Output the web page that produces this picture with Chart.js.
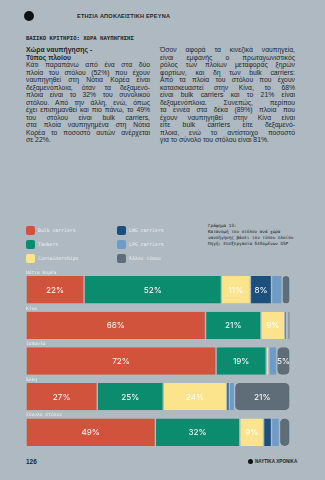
<!DOCTYPE html>
<html lang="el">
<head>
<meta charset="utf-8">
<script src="https://cdn.jsdelivr.net/npm/chart.js@4/dist/chart.umd.min.js"></script>
<style>
  body { margin: 0; background: #aeb9c1; }
  #page { position: relative; width: 325px; height: 480px; background: #aeb9c1; overflow: hidden;
          font-family: "Liberation Sans", Arial, sans-serif; color: #23272b; }
  .abs { position: absolute; }
  .mono { font-family: "DejaVu Sans Mono", "Liberation Mono", monospace; }
  .col { font-size: 6.8px; line-height: 7.5px; }
  .col .j { text-align: justify; text-align-last: justify; white-space: nowrap; }
  .col .j.last { text-align-last: left; }
  .col b { display: block; font-weight: bold; }
  .leg { position: absolute; display: flex; align-items: center; font-size: 4.8px; color: #eef2f5; }
  .leg i { display: inline-block; width: 9px; height: 9px; border-radius: 2px; margin-right: 3px; }
</style>
</head>
<body>
<div id="page">
  <!-- header -->
  <div class="abs" style="left:24px;top:11px;width:10px;height:10px;border-radius:50%;background:#111;"></div>
  <div class="abs" style="left:77px;top:13px;font-size:5.6px;font-weight:bold;letter-spacing:0.2px;">ΕΤΗΣΙΑ ΑΠΟΚΛΕΙΣΤΙΚΗ ΕΡΕΥΝΑ</div>
  <div class="abs mono" style="left:26px;top:35px;font-size:5.6px;font-weight:bold;">ΒΑΣΙΚΟ ΚΡΙΤΗΡΙΟ: ΧΩΡΑ ΝΑΥΠΗΓΗΣΗΣ</div>

  <!-- text columns -->
  <div class="abs col" style="left:26px;top:46px;width:124px;">
    <b>Χώρα ναυπήγησης -</b>
    <b>Τύπος πλοίου</b>
    <div class="j">Κάτι παραπάνω από ένα στα δύο</div>
    <div class="j">πλοία του στόλου (52%) που έχουν</div>
    <div class="j">ναυπηγηθεί στη Νότια Κορέα είναι</div>
    <div class="j">δεξαμενόπλοια, όταν τα δεξαμενό-</div>
    <div class="j">πλοια είναι το 32% του συνολικού</div>
    <div class="j">στόλου. Από την άλλη, ενώ, όπως</div>
    <div class="j">έχει επισημανθεί και πιο πάνω, το 49%</div>
    <div class="j">του στόλου είναι bulk carriers,</div>
    <div class="j">στα πλοία ναυπηγημένα στη Νότια</div>
    <div class="j">Κορέα το ποσοστό αυτών ανέρχεται</div>
    <div class="j last">σε 22%.</div>
  </div>
  <div class="abs col" style="left:160px;top:46px;width:135px;">
    <div class="j">Όσον αφορά τα κινεζικά ναυπηγεία,</div>
    <div class="j">είναι εμφανής ο πρωταγωνιστικός</div>
    <div class="j">ρόλος των πλοίων μεταφοράς ξηρών</div>
    <div class="j">φορτίων, και δη των bulk carriers:</div>
    <div class="j">Από τα πλοία του στόλου που έχουν</div>
    <div class="j">κατασκευαστεί στην Κίνα, το 68%</div>
    <div class="j">είναι bulk carriers και το 21% είναι</div>
    <div class="j">δεξαμενόπλοια. Συνεπώς, περίπου</div>
    <div class="j">τα εννέα στα δέκα (89%) πλοία που</div>
    <div class="j">έχουν ναυπηγηθεί στην Κίνα είναι</div>
    <div class="j">είτε bulk carriers είτε δεξαμενό-</div>
    <div class="j">πλοια, ενώ το αντίστοιχο ποσοστό</div>
    <div class="j last">για το σύνολο του στόλου είναι 81%.</div>
  </div>

  <!-- legend (filled from the arrays below) -->
  <div id="legend"></div>

  <!-- caption -->
  <div class="abs mono" style="left:208px;top:223px;font-size:4.3px;line-height:6px;color:#1d2024;">
    Γράφημα 13:<br>
    Κατανομή του στόλου ανά χώρα<br>
    ναυπήγησης βάσει του τύπου πλοίου<br>
    Πηγή: Επεξεργασία δεδομένων GSP
  </div>

  <canvas id="chart" class="abs" width="264" height="188" style="left:26px;top:266px;width:264px;height:188px;"></canvas>

  <!-- footer -->
  <div class="abs" style="left:26px;top:458px;font-size:6.5px;font-weight:bold;">126</div>
  <div class="abs" style="left:248px;top:459px;width:5px;height:5px;border-radius:50%;background:#111;"></div>
  <div class="abs" style="left:255px;top:459px;font-size:4.6px;font-weight:bold;">ΝΑΥΤΙΚΑ ΧΡΟΝΙΚΑ</div>
</div>

<script>
// categories and series (% of ships per country of build)
const countries = ['Νότια Κορέα', 'Κίνα', 'Ιαπωνία', 'Άλλη', 'Σύνολο στόλου'];
const seriesNames = ['Bulk carriers', 'Tankers', 'Containerships', 'LNG carriers', 'LPG carriers', 'Άλλου τύπου'];
const bulkCarriers = [22, 68, 72, 27, 49];
const tankers = [52, 21, 19, 25, 32];
const containerships = [11, 9, 1, 24, 9];
const lngCarriers = [8, 0.7, 0, 1, 3];
const lpgCarriers = [4, 0.5, 3, 2, 3];
const otherTypes = [3, 0.8, 5, 21, 4];

const BG = '#aeb9c1';
const colors = ['#d1533b', '#0b8c6f', '#fce48c', '#1c4f7e', '#6e9cc6', '#5e6d77'];
const seriesData = [bulkCarriers, tankers, containerships, lngCarriers, lpgCarriers, otherTypes];

// legend: two columns of three
const legend = document.getElementById('legend');
seriesNames.forEach((name, i) => {
    const el = document.createElement('div');
    el.className = 'leg mono';
    el.style.left = (i < 3 ? 26 : 117) + 'px';
    el.style.top = (226 + (i % 3) * 14) + 'px';
    el.innerHTML = '<i style="background:' + colors[i] + '"></i>' + name;
    legend.appendChild(el);
});

// draws the country name above each bar and the % inside big segments
const labelPlugin = {
    id: 'segLabels',
    afterDatasetsDraw(chart) {
        const ctx = chart.ctx;
        ctx.save();
        ctx.font = '4.6px "DejaVu Sans Mono"';
        ctx.fillStyle = '#eef2f5';
        ctx.textAlign = 'left';
        ctx.textBaseline = 'alphabetic';
        chart.getDatasetMeta(0).data.forEach((bar, i) => {
            ctx.fillText(countries[i], chart.scales.x.left, bar.y - bar.height / 2 - 2);
        });
        ctx.font = '8.2px Inter';
        ctx.fillStyle = '#ffffff';
        ctx.textAlign = 'center';
        ctx.textBaseline = 'middle';
        chart.data.datasets.forEach((ds, di) => {
            chart.getDatasetMeta(di).data.forEach((bar, i) => {
                const v = ds.data[i];
                if (v >= 5) ctx.fillText(Math.round(v) + '%', (bar.x + bar.base) / 2, bar.y + 0.5);
            });
        });
        ctx.restore();
    }
};

new Chart(document.getElementById('chart'), {
    type: 'bar',
    data: {
        labels: countries,
        datasets: seriesNames.map((name, i) => ({
            label: name,
            data: seriesData[i],
            backgroundColor: colors[i]
        }))
    },
    options: {
        responsive: false,
        animation: false,
        indexAxis: 'y',
        layout: { padding: { top: 6, bottom: 4, left: 0, right: 0 } },
        scales: {
            x: { stacked: true, min: 0, max: 100, display: false },
            y: { stacked: true, display: false }
        },
        datasets: {
            bar: {
                categoryPercentage: 1,
                barPercentage: 0.77,
                borderRadius: 5,
                borderSkipped: false,
                borderWidth: { left: 0.7, right: 0.7, top: 0, bottom: 0 },
                borderColor: BG
            }
        },
        plugins: { legend: { display: false }, tooltip: { enabled: false } }
    },
    plugins: [labelPlugin]
});
</script>
</body>
</html>
